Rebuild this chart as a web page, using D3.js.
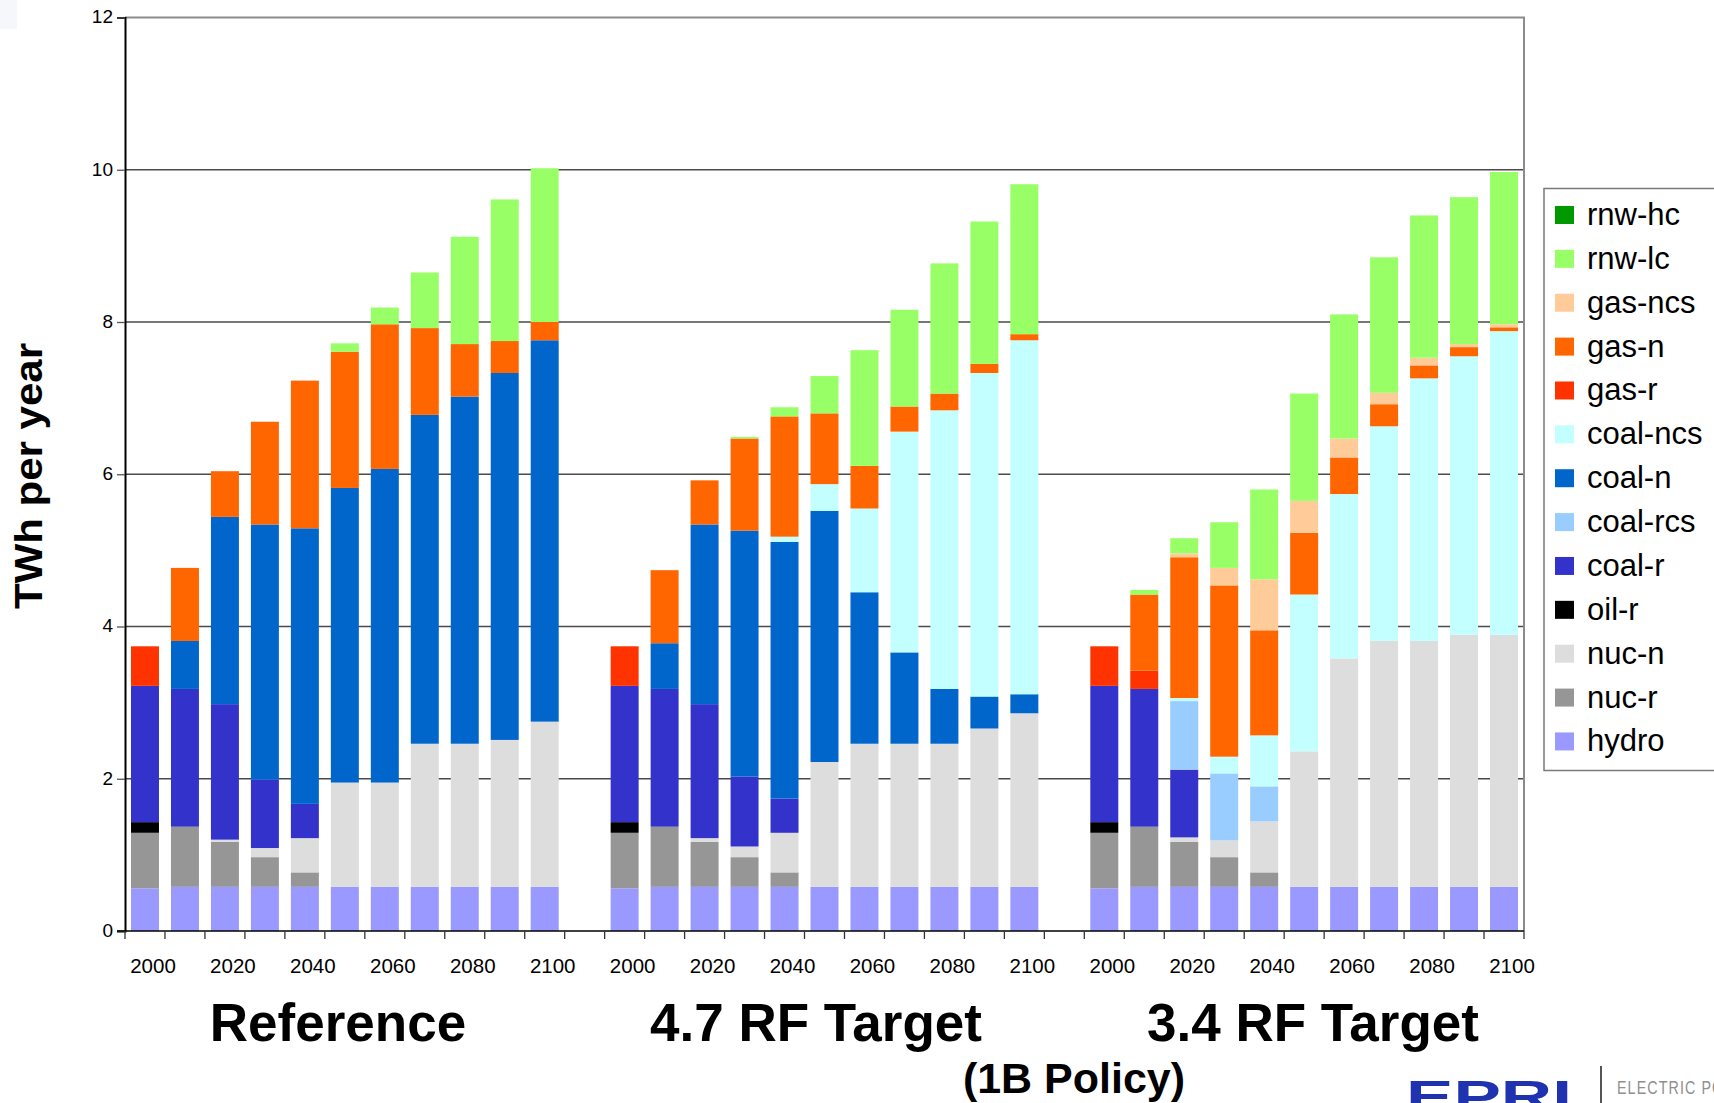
<!DOCTYPE html>
<html>
<head>
<meta charset="utf-8">
<script src="https://cdn.jsdelivr.net/npm/d3@7"></script>
<style>
  html, body { margin: 0; padding: 0; background: #fff; overflow: hidden; }
  svg { display: block; }
  text { font-family: "Liberation Sans", Arial, Helvetica, sans-serif; }
</style>
</head>
<body>
<svg id="chart" width="1714" height="1103"></svg>
<script>
// Electricity generation by technology, three scenarios, 2000-2100 (TWh per year)
const scenarios = ["Reference", "4.7 RF Target", "3.4 RF Target"];
const years = [2000, 2010, 2020, 2030, 2040, 2050, 2060, 2070, 2080, 2090, 2100];
const yearLabels = [2000, 2020, 2040, 2060, 2080, 2100];
const yTicks = [0, 2, 4, 6, 8, 10, 12];

// stacking order, bottom to top
const techKeys = ["hydro", "nuc-r", "nuc-n", "oil-r", "coal-r", "coal-rcs", "coal-n",
                  "coal-ncs", "gas-r", "gas-n", "gas-ncs", "rnw-lc", "rnw-hc"];
const techColors = ["#9999ff", "#969696", "#dddddd", "#000000", "#3333cc", "#99ccff", "#0066cc",
                    "#c4ffff", "#ff3300", "#ff6600", "#ffcc99", "#99ff66", "#009900"];

// one row per scenario: Reference, 4.7 RF Target, 3.4 RF Target
const hydro = [
  [0.56, 0.58, 0.58, 0.58, 0.58, 0.58, 0.58, 0.58, 0.58, 0.58, 0.58],
  [0.56, 0.58, 0.58, 0.58, 0.58, 0.58, 0.58, 0.58, 0.58, 0.58, 0.58],
  [0.56, 0.58, 0.58, 0.58, 0.58, 0.58, 0.58, 0.58, 0.58, 0.58, 0.58]
];
const nucR = [
  [0.73, 0.79, 0.59, 0.39, 0.19, 0, 0, 0, 0, 0, 0],
  [0.73, 0.79, 0.59, 0.39, 0.19, 0, 0, 0, 0, 0, 0],
  [0.73, 0.79, 0.59, 0.39, 0.19, 0, 0, 0, 0, 0, 0]
];
const nucN = [
  [0, 0, 0.03, 0.12, 0.45, 1.37, 1.37, 1.88, 1.88, 1.93, 2.17],
  [0, 0, 0.05, 0.14, 0.52, 1.64, 1.88, 1.88, 1.88, 2.08, 2.28],
  [0, 0, 0.06, 0.22, 0.67, 1.78, 3.00, 3.23, 3.23, 3.31, 3.31]
];
const oilR = [
  [0.14, 0, 0, 0, 0, 0, 0, 0, 0, 0, 0],
  [0.14, 0, 0, 0, 0, 0, 0, 0, 0, 0, 0],
  [0.14, 0, 0, 0, 0, 0, 0, 0, 0, 0, 0]
];
const coalR = [
  [1.79, 1.81, 1.78, 0.90, 0.45, 0, 0, 0, 0, 0, 0],
  [1.79, 1.81, 1.76, 0.92, 0.45, 0, 0, 0, 0, 0, 0],
  [1.79, 1.81, 0.89, 0, 0, 0, 0, 0, 0, 0, 0]
];
const coalRcs = [
  [0, 0, 0, 0, 0, 0, 0, 0, 0, 0, 0],
  [0, 0, 0, 0, 0, 0, 0, 0, 0, 0, 0],
  [0, 0, 0.90, 0.88, 0.46, 0, 0, 0, 0, 0, 0]
];
const coalN = [
  [0, 0.63, 2.46, 3.35, 3.62, 3.87, 4.12, 4.32, 4.56, 4.82, 5.01],
  [0, 0.60, 2.36, 3.23, 3.37, 3.30, 1.99, 1.20, 0.72, 0.42, 0.25],
  [0, 0, 0, 0, 0, 0, 0, 0, 0, 0, 0]
];
const coalNcs = [
  [0, 0, 0, 0, 0, 0, 0, 0, 0, 0, 0],
  [0, 0, 0, 0, 0.07, 0.35, 1.10, 2.90, 3.66, 4.25, 4.65],
  [0, 0, 0.04, 0.22, 0.67, 2.06, 2.16, 2.82, 3.45, 3.66, 3.99]
];
const gasR = [
  [0.52, 0, 0, 0, 0, 0, 0, 0, 0, 0, 0],
  [0.52, 0, 0, 0, 0, 0, 0, 0, 0, 0, 0],
  [0.52, 0.24, 0, 0, 0, 0, 0, 0, 0, 0, 0]
];
const gasN = [
  [0, 0.96, 0.60, 1.35, 1.94, 1.79, 1.90, 1.14, 0.69, 0.42, 0.24],
  [0, 0.96, 0.58, 1.21, 1.58, 0.93, 0.56, 0.33, 0.22, 0.12, 0.08],
  [0, 1.00, 1.85, 2.25, 1.38, 0.81, 0.48, 0.29, 0.17, 0.12, 0.05]
];
const gasNcs = [
  [0, 0, 0, 0, 0, 0, 0, 0, 0, 0, 0],
  [0, 0, 0, 0, 0, 0, 0, 0, 0, 0, 0],
  [0, 0, 0.05, 0.23, 0.67, 0.42, 0.25, 0.15, 0.10, 0.04, 0.04]
];
const rnwLc = [
  [0, 0, 0, 0, 0, 0.11, 0.22, 0.73, 1.41, 1.86, 2.02],
  [0, 0, 0, 0.02, 0.12, 0.49, 1.52, 1.27, 1.71, 1.87, 1.97],
  [0, 0.06, 0.20, 0.60, 1.18, 1.41, 1.63, 1.78, 1.87, 1.93, 2.00]
];
const rnwHc = [
  [0, 0, 0, 0, 0, 0, 0, 0, 0, 0, 0],
  [0, 0, 0, 0, 0, 0, 0, 0, 0, 0, 0],
  [0, 0, 0, 0, 0, 0, 0, 0, 0, 0, 0]
];

const techData = [hydro, nucR, nucN, oilR, coalR, coalRcs, coalN, coalNcs,
                  gasR, gasN, gasNcs, rnwLc, rnwHc];

// ---- build table: 11 bars per scenario, an empty slot between scenarios ----
const rows = [];
const slots = [];
scenarios.forEach((sc, si) => {
  years.forEach((yr, yi) => {
    const row = { slot: si + "-" + yr, scenario: si, year: yr };
    techKeys.forEach((k, ki) => { row[k] = techData[ki][si][yi]; });
    rows.push(row);
    slots.push(row.slot);
  });
  if (si < scenarios.length - 1) slots.push("gap" + si);
});

const svg = d3.select("#chart");

// faint panel corner at top left
svg.append("rect").attr("x", 0).attr("y", 0).attr("width", 17).attr("height", 29)
  .attr("fill", "#f6f7fa");

const plot = { left: 125, right: 1524, top: 17.5, bottom: 931 };

const x = d3.scaleBand().domain(slots).range([plot.left, plot.right])
  .paddingInner(0.3).paddingOuter(0.15);
const step = x.step();
const y = d3.scaleLinear().domain([0, 12]).range([plot.bottom, plot.top]);

// gridlines
svg.append("g").selectAll("line").data(yTicks.filter(t => t > 0 && t < 12)).join("line")
  .attr("x1", plot.left).attr("x2", plot.right)
  .attr("y1", d => y(d)).attr("y2", d => y(d))
  .attr("stroke", "#4a4a4a").attr("stroke-width", 1.3);

// plot border (top and right)
svg.append("path")
  .attr("d", `M${plot.left},${y(12)}H${plot.right}V${plot.bottom}`)
  .attr("fill", "none").attr("stroke", "#8c8c8c").attr("stroke-width", 2);

// stacked bars
const stacked = d3.stack().keys(techKeys)(rows);
svg.append("g").selectAll("g").data(stacked).join("g")
  .attr("fill", (d, i) => techColors[i])
  .selectAll("rect").data(d => d.filter(p => p[1] - p[0] > 0)).join("rect")
  .attr("x", d => x(d.data.slot))
  .attr("width", x.bandwidth())
  .attr("y", d => y(d[1]))
  .attr("height", d => y(d[0]) - y(d[1]));

// y axis
const yAxis = svg.append("g").attr("transform", `translate(${plot.left},0)`)
  .call(d3.axisLeft(y).tickValues(yTicks).tickSize(8).tickPadding(4).tickFormat(d3.format("d")));
yAxis.select(".domain").attr("stroke", "#000").attr("stroke-width", 2);
yAxis.selectAll(".tick line").attr("stroke", "#555").attr("stroke-width", 1.3);
yAxis.selectAll(".tick text").attr("font-size", 19).attr("fill", "#000")
  .attr("font-family", "\"Liberation Sans\", Arial, sans-serif").attr("dy", "0.28em");

// x axis baseline with ticks at every slot boundary
svg.append("line").attr("x1", plot.left - 8).attr("x2", plot.right)
  .attr("y1", plot.bottom).attr("y2", plot.bottom)
  .attr("stroke", "#000").attr("stroke-width", 1.6);
const boundaries = slots.map(s => x(s) - step * x.paddingInner() / 2)
  .concat([x(slots[slots.length - 1]) + x.bandwidth() + step * x.paddingInner() / 2]);
svg.append("g").selectAll("line").data(boundaries).join("line")
  .attr("x1", d => d).attr("x2", d => d)
  .attr("y1", plot.bottom).attr("y2", plot.bottom + 8)
  .attr("stroke", "#333").attr("stroke-width", 1.3);

// year labels under every other bar
svg.append("g").selectAll("text")
  .data(rows.filter(r => yearLabels.includes(r.year))).join("text")
  .attr("x", d => x(d.slot) + x.bandwidth() / 2 + 8)
  .attr("y", 973)
  .attr("text-anchor", "middle").attr("font-size", 20.5).attr("fill", "#000")
  .text(d => d.year);

// scenario titles
const titleX = [338, 816, 1313];
svg.append("g").selectAll("text").data(scenarios).join("text")
  .attr("x", (d, i) => titleX[i]).attr("y", 1041)
  .attr("text-anchor", "middle").attr("font-size", 53).attr("font-weight", "bold")
  .attr("fill", "#000")
  .text(d => d);
svg.append("text").attr("x", 1074).attr("y", 1093)
  .attr("text-anchor", "middle").attr("font-size", 43).attr("font-weight", "bold")
  .text("(1B Policy)");

// y axis title
svg.append("text")
  .attr("transform", "translate(42,476) rotate(-90)")
  .attr("text-anchor", "middle").attr("font-size", 38).attr("font-weight", "bold")
  .attr("textLength", 266).attr("lengthAdjust", "spacingAndGlyphs")
  .text("TWh per year");

// legend, listed top to bottom
const legend = svg.append("g");
legend.append("rect").attr("x", 1544).attr("y", 188.5).attr("width", 200).attr("height", 582)
  .attr("fill", "#fff").attr("stroke", "#7a7a7a").attr("stroke-width", 1.5);
const legendKeys = techKeys.slice().reverse();
const legendItem = legend.selectAll("g.item").data(legendKeys).join("g")
  .attr("class", "item")
  .attr("transform", (d, i) => `translate(1555,${215 + i * 43.87})`);
legendItem.append("rect").attr("x", 0).attr("y", -9).attr("width", 19).attr("height", 18)
  .attr("fill", d => techColors[techKeys.indexOf(d)]);
legendItem.append("text").attr("x", 32).attr("y", 10)
  .attr("font-size", 31).attr("fill", "#000")
  .text(d => d);

// organisation mark at bottom right
const mark = svg.append("g");
mark.append("text").attr("x", 1406).attr("y", 1112)
  .attr("font-size", 44).attr("font-weight", "bold").attr("fill", "#1f33b0")
  .attr("textLength", 166).attr("lengthAdjust", "spacingAndGlyphs")
  .text("EPRI");
mark.append("line").attr("x1", 1601).attr("x2", 1601).attr("y1", 1066).attr("y2", 1103)
  .attr("stroke", "#555").attr("stroke-width", 2);
mark.append("text").attr("transform", "translate(1617,1094) scale(0.75,1)")
  .attr("font-size", 19).attr("fill", "#8f8f8f")
  .attr("letter-spacing", 1.5)
  .text("ELECTRIC POWER");
mark.append("text").attr("transform", "translate(1617,1117) scale(0.75,1)")
  .attr("font-size", 19).attr("fill", "#b5b5b5")
  .attr("letter-spacing", 1.5)
  .text("RESEARCH INSTITUTE");
</script>
</body>
</html>
